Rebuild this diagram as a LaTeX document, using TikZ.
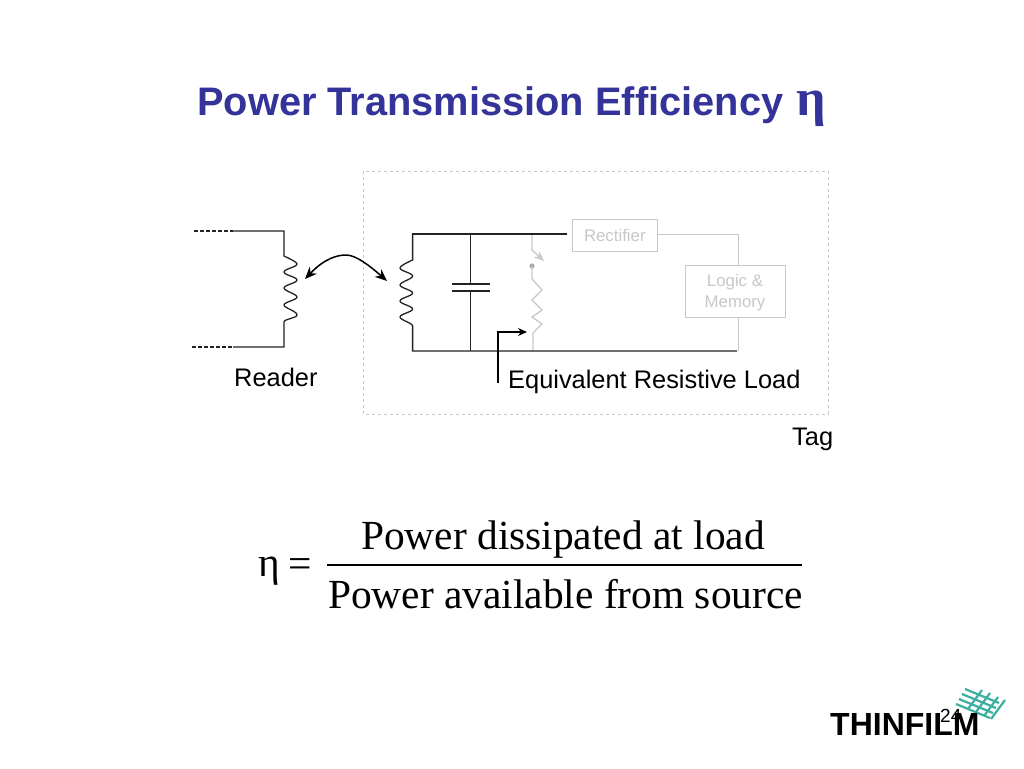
\documentclass[tikz,border=0pt]{standalone}
\usepackage{fontspec}
\setmainfont{Liberation Sans}
\newfontfamily\tms{Liberation Serif}
\usetikzlibrary{arrows.meta}
\definecolor{ttl}{RGB}{51,51,153}
\definecolor{pale}{RGB}{200,200,200}
\definecolor{teal1}{RGB}{60,175,160}
\definecolor{wire}{RGB}{35,35,35}
\tikzset{
 x=1pt,y=-1pt,
 lbl/.style={inner sep=0,anchor=base west,font=\fontsize{25.4}{28}\selectfont},
 eqn/.style={inner sep=0,anchor=base west,font=\tms\fontsize{41.4}{44}\selectfont},
 wired/.style={wire,line width=1.3pt},
 pw/.style={pale,line width=1pt},
 gbox/.style={draw=pale,line width=0.9pt,text=pale,align=center,inner sep=0,font=\fontsize{16.8}{20.8}\selectfont},
 hash/.style={teal1,line width=2.2pt}
}
\begin{document}
\begin{tikzpicture}
\useasboundingbox[fill=white] (0,0) rectangle (1024,768);
% title
\node[inner sep=0,anchor=base west,text=ttl,font=\bfseries\fontsize{39.8}{42}\selectfont] (title) at (197,115) {Power Transmission Efficiency};
\node[inner sep=0,anchor=base west,text=ttl,font=\tms\bfseries\fontsize{52}{56}\selectfont] (titleeta) at (796,115) {η};
% tag box
\draw[pale,dashed,line width=0.9pt] (363,171) rectangle (828,414);
% gray parts
\node[gbox,minimum width=84.5pt,minimum height=32pt] (rect) at (614.8,235) {Rectifier};
\node[gbox,minimum width=100pt,minimum height=52pt] (logic) at (735,291) {\raisebox{-2pt}[\height][\depth]{\begin{tabular}{@{}c@{}}Logic \&\\Memory\end{tabular}}};
\coordinate (jt) at (738,234);
\coordinate (jb) at (738,351);
\draw[pw] (rect.east |- jt) -- (jt) -- (jt |- logic.north);
\draw[pw] (jt |- logic.south) -- (jb);
\coordinate (swt) at (532,234);
\coordinate (dot) at (532,266);
\draw[pw,line width=1.3pt,-{Stealth[length=10pt,width=8pt]}] (swt) -- (532,250) -- (544,261);
\fill[pale!85!black] (dot) circle (2.6pt);
\draw[pw,line width=1.3pt] (dot) -- (532,279) -- (542,290) -- (532,300) -- (542,310) -- (532,317) -- (542,324) -- (533,333) -- (533,351);
% reader
\draw[wired,dashed,dash pattern=on 3.5pt off 2.5pt] (194,231) -- (233,231);
\draw[wired,dashed,dash pattern=on 3.5pt off 2.5pt] (192,347) -- (233,347);
\draw[wired] (233,231) -- (284,231) -- (284,256)
 .. controls (290,259) and (297,262) .. (297,264)
 .. controls (297,267) and (284,269) .. (284,272)
 .. controls (284,275) and (297,277) .. (297,280)
 .. controls (297,283) and (284,285) .. (284,288)
 .. controls (284,291) and (297,294) .. (297,297)
 .. controls (297,300) and (284,302) .. (284,305)
 .. controls (284,308) and (297,311) .. (297,315)
 .. controls (297,318) and (284,319) .. (284,322) -- (284,347) -- (233,347);
% tag wires
\draw[wired] (412,234) -- (567,234);
\draw[wired] (412.6,234) -- (412.6,260)
 .. controls (406,263) and (400,266) .. (400,268)
 .. controls (400,271) and (412.6,273) .. (412.6,276)
 .. controls (412.6,279) and (400,282) .. (400,285)
 .. controls (400,288) and (412.6,290) .. (412.6,293)
 .. controls (412.6,296) and (400,298) .. (400,301)
 .. controls (400,304) and (412.6,306) .. (412.6,309)
 .. controls (412.6,312) and (400,314) .. (400,317)
 .. controls (400,320) and (412.6,323) .. (412.6,326) -- (412.6,351) -- (737,351);
\draw[wired] (470.7,234) -- (470.7,284);
\draw[wired] (470.7,291) -- (470.7,351);
\draw[wired] (452,284) -- (490,284);
\draw[wired] (452,291) -- (490,291);
% coupling
\draw[black,line width=1.5pt,{Stealth[length=12pt,width=10pt]}-{Stealth[length=12pt,width=10pt]}] (305,279) .. controls (325,258) and (338,255) .. (346,255) .. controls (356,255) and (370,266) .. (387,281);
% pointer
\draw[black,line width=1.5pt,-{Stealth[length=9pt,width=8pt]}] (498,383) -- (498,332) -- (527,332);
% labels
\node[lbl] (reader) at (234,386) {Reader};
\node[lbl] (erl) at (508,388) {Equivalent Resistive Load};
\node[lbl] (tag) at (792,445) {Tag};
% equation
\node[eqn] (eta) at (258,576) {η};
\node[eqn] (eq) at (288.5,577.5) {=};
\node[eqn] (num) at (361,549.3) {Power dissipated at load};
\node[eqn] (den) at (328,608.3) {Power available from source};
\coordinate (barl) at (327,565);
\coordinate (barr) at (802,565);
\draw[black,line width=1.8pt] (barl) -- (barr);
% logo
\foreach \a/\b in {965/689,962/694,959/699,956/704}
 \draw[hash] (\a,\b) -- ++(34,14);
\foreach \a/\b in {982/690,990/693,998/697,1005/700}
 \draw[hash] (\a,\b) -- ++(-14,19);
\node[inner sep=0,anchor=base west,font=\bfseries\fontsize{32}{34}\selectfont,text=black] (logo) at (830,735) {THINFILM};
\node[inner sep=0,anchor=base west,font=\fontsize{19}{22}\selectfont,text=black] (page) at (940,722) {24};
\end{tikzpicture}
\end{document}
